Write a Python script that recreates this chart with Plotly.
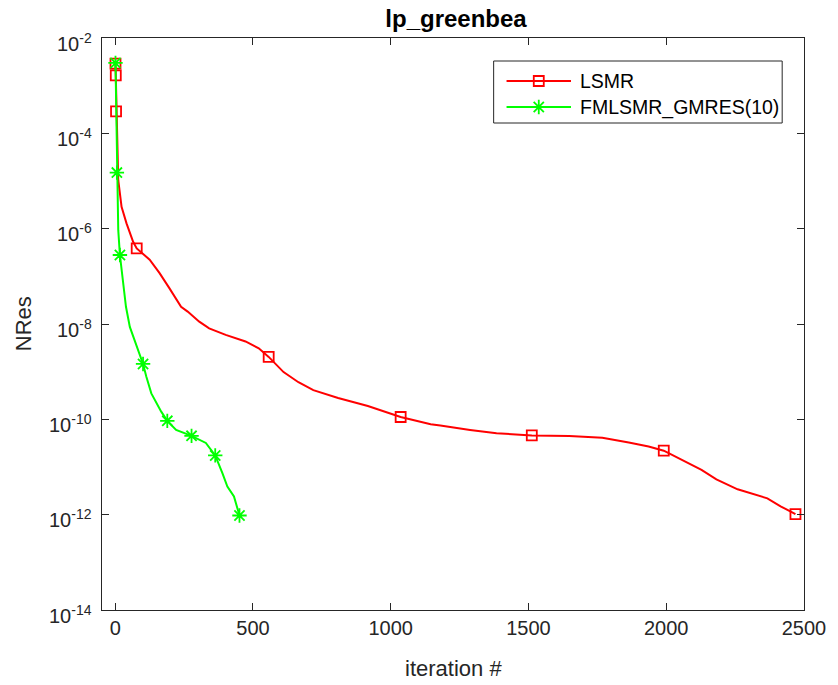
import plotly.graph_objects as go

# ---- convergence history: normalized residual vs. iteration ----
series_names = ["LSMR", "FMLSMR_GMRES(10)"]
series_colors = ["#FF0000", "#00FF00"]
series_symbols = ["square-open", "asterisk-open"]

lsmr_iter = [1, 2, 3, 11, 23, 41, 65, 78, 125, 161, 197, 239, 263, 305, 341, 401,
             473, 521, 557, 611, 665, 719, 809, 917, 1036, 1145, 1180, 1240, 1288,
             1384, 1512, 1648, 1768, 1864, 1936, 1991, 2080, 2128, 2182, 2259,
             2367, 2415, 2469]
lsmr_nres = [2.9e-3, 1.65e-3, 2.9e-4, 1.04e-5, 2.86e-6, 1.29e-6, 5.3e-7, 3.85e-7,
             2.24e-7, 1.17e-7, 5.6e-8, 2.3e-8, 1.82e-8, 1.12e-8, 8.1e-9, 5.9e-9,
             4.3e-9, 3.1e-9, 2.04e-9, 9.8e-10, 6.0e-10, 4.1e-10, 2.8e-10,
             1.9e-10, 1.12e-10, 7.9e-11, 7.4e-11, 6.5e-11, 6.0e-11, 5.1e-11,
             4.6e-11, 4.45e-11, 4.1e-11, 3.25e-11, 2.7e-11, 2.2e-11, 1.2e-11,
             8.7e-12, 5.5e-12, 3.4e-12, 2.2e-12, 1.5e-12, 1.03e-12]
lsmr_marker_idx = [0, 1, 2, 7, 18, 24, 30, 35, 42]

fml_iter = [1, 6, 8, 11, 17, 29, 39, 53, 71, 89, 101, 113, 131, 167, 189, 221,
            277, 329, 363, 389, 407, 431, 451]
fml_nres = [3.0e-3, 1.5e-5, 4.0e-6, 9.3e-7, 2.8e-7, 8.3e-8, 2.3e-8, 8.7e-9,
            4.6e-9, 2.4e-9, 1.45e-9, 7.8e-10, 3.5e-10, 1.45e-10, 9.3e-11,
            6.0e-11, 4.5e-11, 3.2e-11, 1.75e-11, 7.4e-12, 3.9e-12, 2.4e-12,
            9.6e-13]
fml_marker_idx = [0, 1, 4, 10, 14, 16, 18, 22]

x_ticks = [0, 500, 1000, 1500, 2000, 2500]
y_exponents = [-14, -12, -10, -8, -6, -4, -2]

series = [
    (lsmr_iter, lsmr_nres, lsmr_marker_idx),
    (fml_iter, fml_nres, fml_marker_idx),
]

AX = "#262626"
FONT = "Liberation Sans, Arial, Helvetica, sans-serif"

fig = go.Figure()


def marker_style(sym, color):
    return dict(symbol=sym, size=10 if sym.startswith("square") else 12,
                color=color, line=dict(color=color, width=1.8))


for (xs, ys, idx), name, color, sym in zip(series, series_names, series_colors, series_symbols):
    fig.add_trace(go.Scatter(
        x=xs, y=ys, mode="lines", name=name, showlegend=False,
        line=dict(color=color, width=2),
    ))
    fig.add_trace(go.Scatter(
        x=[xs[i] for i in idx], y=[ys[i] for i in idx], mode="markers",
        showlegend=False, name=name, marker=marker_style(sym, color),
    ))

# ---- boxed legend drawn on an overlay axis spanning the plot area ----
W, H = 838, 685
ML, MR, MT, MB = 102, 28, 38, 75
PW, PH = W - ML - MR, H - MT - MB


def px2paper(px, py):
    return (px - ML) / PW, (H - MB - py) / PH


bx0, by0 = px2paper(497, 61)
bx1, by1 = px2paper(788, 123)
fig.add_shape(type="rect", xref="paper", yref="paper", x0=bx0, y0=by1, x1=bx1, y1=by0,
              line=dict(color=AX, width=1), fillcolor="white", layer="below")

row_y = [81, 107]
for name, color, sym, ry in zip(series_names, series_colors, series_symbols, row_y):
    lx0, ly = px2paper(510, ry)
    lx1, _ = px2paper(575, ry)
    mx, _ = px2paper(542.5, ry)
    fig.add_trace(go.Scatter(
        x=[lx0, lx1], y=[ly, ly], xaxis="x2", yaxis="y2", mode="lines",
        showlegend=False, hoverinfo="skip", line=dict(color=color, width=2),
    ))
    fig.add_trace(go.Scatter(
        x=[mx], y=[ly], xaxis="x2", yaxis="y2", mode="markers",
        showlegend=False, hoverinfo="skip", marker=marker_style(sym, color),
    ))
    tx, _ = px2paper(582, ry)
    fig.add_annotation(xref="paper", yref="paper", x=tx, y=ly, text=name,
                       showarrow=False, xanchor="left", yanchor="middle",
                       font=dict(family=FONT, size=19.5, color="#000000"))

axis_common = dict(
    showline=True, linecolor=AX, linewidth=1, mirror="allticks",
    ticks="inside", ticklen=7, tickwidth=1, tickcolor=AX,
    showgrid=False, zeroline=False,
    tickfont=dict(family=FONT, size=20, color=AX),
)

fig.update_layout(
    width=W, height=H,
    margin=dict(l=ML, r=MR, t=MT, b=MB),
    paper_bgcolor="white", plot_bgcolor="white",
    showlegend=False,
    xaxis=dict(range=[-48, 2500], tickvals=x_ticks,
               ticktext=[str(v) for v in x_ticks], **axis_common),
    yaxis=dict(type="log", range=[-14, -2],
               tickvals=[10.0 ** e for e in y_exponents],
               showticklabels=False, **axis_common),
    xaxis2=dict(overlaying="x", range=[0, 1], visible=False, fixedrange=True),
    yaxis2=dict(overlaying="y", range=[0, 1], visible=False, fixedrange=True),
    title=dict(text="<b>lp_greenbea</b>", x=(ML + PW / 2) / W, xanchor="center",
               y=1 - 19 / H, yanchor="middle", yref="container",
               font=dict(family=FONT, size=24, color="#000000")),
)

# log-axis tick labels in 10^n form, set slightly below each tick like the
# superscript-aware label placement of the original plotting tool
for e in y_exponents:
    fig.add_annotation(xref="paper", yref="y", x=(94 - ML) / PW, y=e,
                       text="10<sup>%d</sup>" % e, showarrow=False,
                       xanchor="right", yanchor="middle", yshift=-4,
                       font=dict(family=FONT, size=20, color=AX))

fig.add_annotation(xref="paper", yref="paper", x=0.5, y=(H - MB - 668) / PH,
                   text="iteration #", showarrow=False, xanchor="center", yanchor="middle",
                   font=dict(family=FONT, size=22, color=AX))
fig.add_annotation(xref="paper", yref="paper", x=(22.5 - ML) / PW, y=0.5,
                   text="NRes", showarrow=False, textangle=-90,
                   xanchor="center", yanchor="middle",
                   font=dict(family=FONT, size=22, color=AX))

fig.write_html("out.html")
